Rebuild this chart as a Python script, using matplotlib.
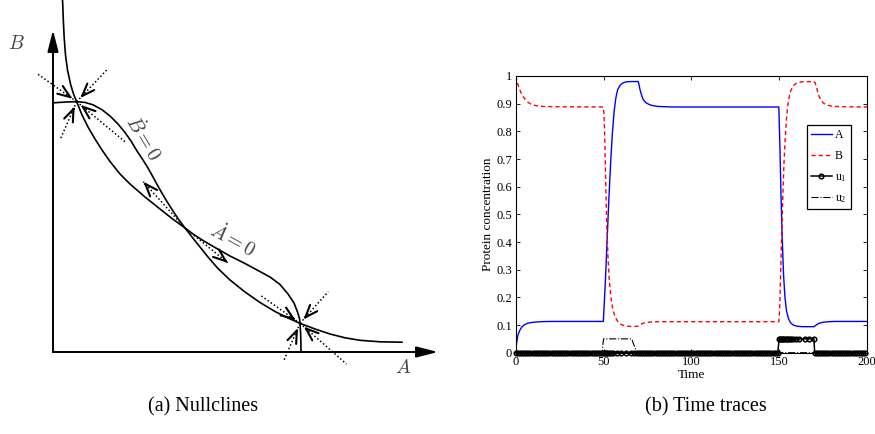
import numpy as np
import matplotlib
matplotlib.use('Agg')
import matplotlib.pyplot as plt
from matplotlib.patches import FancyArrowPatch

plt.rcParams['font.family'] = 'Liberation Serif'
plt.rcParams['mathtext.fontset'] = 'custom'
plt.rcParams['mathtext.rm'] = 'Liberation Serif'
plt.rcParams['mathtext.it'] = 'Liberation Serif:italic'

# ---------------- (a) nullcline sketch (A right, B up, origin at axes corner)
# A-dot = 0 : comes down from the top, ends vertical on the A axis
adot_A = [9.3, 9.7, 10.3, 11.2, 12.5, 14.5, 17.5, 20.5, 23.7, 29, 35, 42, 49, 57, 67, 77,
          92, 107, 119, 132, 140, 150, 162, 177, 192, 205, 217, 227, 235, 241, 244.5,
          246.5, 247, 247.6, 247.9, 248]
adot_B = [354, 349, 332, 314, 297, 282, 268, 258, 250.3, 237, 225, 213, 202, 190.5, 178, 168,
          155, 143, 133.5, 124, 118, 111.5, 104.5, 96, 88.5, 81.5, 75, 67.5, 58, 49, 40,
          33.5, 28.7, 19, 9, 0]
# B-dot = 0 : starts flat on the B axis, flattens out to the right
bdot_A = [0.3, 7, 15, 23.7, 32, 40, 48.7, 57, 65, 72, 78, 84, 90, 95, 100, 106, 113, 120,
          126, 132, 139, 147, 155, 165, 177, 192, 207, 222, 235, 247, 262, 277, 292, 307,
          327, 349]
bdot_B = [249.2, 249.6, 250.1, 250.3, 249.6, 247.2, 242.5, 236, 228, 219.5, 211, 201, 192,
          184, 175, 164, 152, 141, 132, 124, 115, 105, 95, 83.5, 72, 60, 49.5, 40.5, 34,
          28.7, 23, 18, 14.2, 11.7, 10.2, 9.8]

# steady states: two stable nodes and a saddle
stable_pts = [(23.7, 250.3), (247, 28.7)]
saddle_pt = (132, 124)
# far ends of the dotted eigen-directions
stable_dirs = [[(-15.3, 278), (53.7, 282), (7, 212), (72, 210.3)],
               [(207, 57), (275.3, 60.3), (230.3, -9.7), (293.5, -12)]]
saddle_dirs = [(90.3, 170.3), (175, 89)]

# ---------------- (b) time traces
A_t = [0, 0.5, 1, 1.5, 2.5, 3.5, 5, 7, 10, 14, 20, 49.9, 51, 52, 53, 54, 55, 56, 57, 58,
       59.5, 61, 63, 66, 69.8, 70.8, 71.7, 72.6, 74, 76, 78, 81, 85, 90, 149.8, 150.4, 151,
       151.7, 152.5, 153.3, 154.2, 155.3, 156.5, 158, 160, 163, 169.8, 170.5, 171.5, 173,
       175, 178, 182, 200]
A_v = [0, 0.035, 0.055, 0.068, 0.083, 0.093, 0.101, 0.107, 0.110, 0.112, 0.113, 0.113,
       0.25, 0.40, 0.55, 0.68, 0.79, 0.87, 0.92, 0.95, 0.967, 0.975, 0.979, 0.98, 0.98,
       0.95, 0.93, 0.915, 0.904, 0.897, 0.893, 0.89, 0.889, 0.888, 0.888, 0.75, 0.58, 0.42,
       0.28, 0.20, 0.15, 0.123, 0.108, 0.10, 0.096, 0.094, 0.094, 0.097, 0.102, 0.107,
       0.110, 0.112, 0.113, 0.113]
B_t = [0, 1, 2, 3, 4, 5.5, 7, 9, 12, 16, 22, 49.8, 50.3, 50.8, 51.3, 51.8, 52.5, 53.3,
       54.2, 55.2, 56.5, 58, 60, 62, 65, 68, 69.8, 70.5, 72, 74, 77, 81, 149.8, 150.3,
       150.8, 151.3, 152, 152.7, 153.4, 154.2, 155.2, 156.5, 158, 160, 163, 169.8, 170.5,
       171.3, 172.2, 173.5, 175, 177, 180, 185, 200]
B_v = [1.0, 0.975, 0.955, 0.94, 0.927, 0.915, 0.905, 0.897, 0.892, 0.89, 0.889, 0.888,
       0.86, 0.75, 0.60, 0.47, 0.35, 0.26, 0.20, 0.16, 0.13, 0.114, 0.102, 0.097, 0.095,
       0.095, 0.096, 0.099, 0.105, 0.109, 0.111, 0.112, 0.112, 0.16, 0.28, 0.40, 0.55,
       0.68, 0.77, 0.85, 0.91, 0.945, 0.965, 0.975, 0.979, 0.98, 0.975, 0.958, 0.935,
       0.915, 0.903, 0.895, 0.891, 0.889, 0.888]

# input pulses
u_level = 0.05
u1_window = (150, 170)
u1_t = np.concatenate([np.arange(0, 49.7, 1.2),
                       [50, 50.6, 51.2, 52, 53, 54.2, 55.6, 57.5, 60, 62.8, 65.5, 67.5, 69.2],
                       np.arange(70, 149.7, 1.2),
                       [150, 150.6, 151.2, 151.8, 152.4, 153, 153.7, 154.4, 155.2, 156, 157,
                        158, 159.3, 161.5, 164.5, 167, 169.8],
                       np.arange(170.2, 200.1, 1.2)])
u1_v = np.where((u1_t >= u1_window[0]) & (u1_t <= u1_window[1]), u_level, 0.0)
u2_t = [0, 49.2, 50, 66, 69, 200]
u2_v = [0, 0, u_level, u_level, 0, 0]

y_ticks = [0, 0.1, 0.2, 0.3, 0.4, 0.5, 0.6, 0.7, 0.8, 0.9, 1]
y_labels = ['0', '0.1', '0.2', '0.3', '0.4', '0.5', '0.6', '0.7', '0.8', '0.9', '1']
x_ticks = [0, 50, 100, 150, 200]


def small_arrow(ax, tail, tip):
    ax.add_patch(FancyArrowPatch(tail, tip, arrowstyle='->,head_length=9,head_width=3.4',
                                 mutation_scale=1, lw=1.5, color='black',
                                 shrinkA=0, shrinkB=0))


fig = plt.figure(figsize=(8.75, 4.34), dpi=100)

# ---- panel (a)
ax1 = fig.add_axes([0, 0, 450 / 875, 1])
ax1.set_xlim(-53, 397)
ax1.set_ylim(-82, 352)
ax1.axis('off')

ax1.plot(adot_A, adot_B, color='black', lw=1.2)
ax1.plot(bdot_A, bdot_B, color='black', lw=1.2)

for tip in [(0, 322), (385, 0)]:
    ax1.add_patch(FancyArrowPatch((0, 0), tip, arrowstyle='-|>,head_length=13,head_width=3.3',
                                  mutation_scale=1, lw=1.4, color='black',
                                  shrinkA=0, shrinkB=0))

dots = (0, (1, 1.5))
for centre, ends in zip(stable_pts, stable_dirs):
    c = np.array(centre)
    for end in ends:
        e = np.array(end)
        ax1.plot([c[0], e[0]], [c[1], e[1]], color='black', lw=1.1, ls=dots)
        d = (e - c) / np.linalg.norm(e - c)
        small_arrow(ax1, c + d * 9, c + d * 5)

c = np.array(saddle_pt)
for end in saddle_dirs:
    e = np.array(end)
    ax1.plot([c[0], e[0]], [c[1], e[1]], color='black', lw=1.1, ls=dots)
    d = (e - c) / np.linalg.norm(e - c)
    small_arrow(ax1, e - d * 4, e)

ax1.text(-37, 308, '$B$', fontsize=14, color='#444444', ha='center', va='center',
         math_fontfamily='cm')
ax1.text(350, -16, '$A$', fontsize=14, color='#444444', ha='center', va='center',
         math_fontfamily='cm')
ax1.text(89.7, 213, r'$\dot{B}=0$', fontsize=14.5, color='#444444', rotation=-59,
         ha='center', va='center', rotation_mode='anchor', math_fontfamily='cm')
ax1.text(180, 111, r'$\dot{A}=0$', fontsize=14.5, color='#444444', rotation=-29,
         ha='center', va='center', rotation_mode='anchor', math_fontfamily='cm')

# ---- panel (b)
ax2 = fig.add_axes([515.7 / 875, (434 - 352.7) / 434, 351.3 / 875, 276.7 / 434])
ax2.plot(A_t, A_v, color='blue', lw=1.0, label='A')
ax2.plot(B_t, B_v, color='red', lw=1.0, ls=(0, (3, 2.2)), label='B')
ax2.plot(u1_t, u1_v, color='black', lw=1.1, marker='o', ms=3.3, mfc='none', mew=1.1,
         clip_on=False, label='u$_1$')
ax2.plot(u2_t, u2_v, color='black', lw=0.8, ls='-.', label='u$_2$')
ax2.set_xlim(0, 200)
ax2.set_ylim(0, 1)
ax2.set_xticks(x_ticks)
ax2.set_yticks(y_ticks)
ax2.set_yticklabels(y_labels)
ax2.tick_params(direction='in', top=True, right=True, length=3, width=0.6,
                labelsize=9, pad=2.5)
for s in ax2.spines.values():
    s.set_linewidth(0.8)
ax2.set_xlabel('Time', fontsize=9.5, va='center')
ax2.set_ylabel('Protein concentration', fontsize=9.5, va='center')
ax2.xaxis.set_label_coords(0.5, -0.082)
ax2.yaxis.set_label_coords(-0.079, 0.5)

leg = ax2.legend(loc='upper left', bbox_to_anchor=(807.3 / 875, (434 - 125) / 434),
                 bbox_transform=fig.transFigure, borderaxespad=0, fontsize=8.5,
                 fancybox=False, edgecolor='black', framealpha=1, handlelength=1.7,
                 handletextpad=0.3, labelspacing=0.75, borderpad=0.35)
leg.get_frame().set_linewidth(0.9)

fig.text(203 / 875, 1 - 407 / 434, '(a) Nullclines', fontsize=14.5, ha='center', va='center')
fig.text(706 / 875, 1 - 407 / 434, '(b) Time traces', fontsize=14.5, ha='center',
         va='center')

fig.savefig('out.png', dpi=100)
